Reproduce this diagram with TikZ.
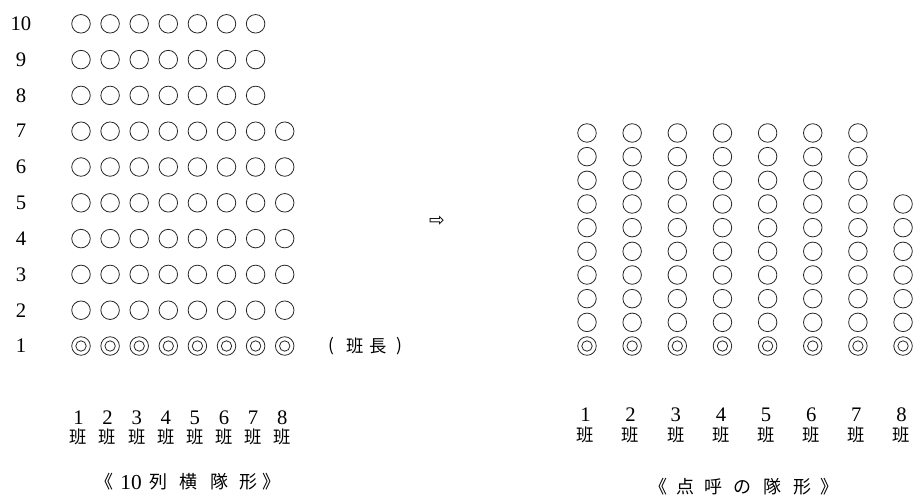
\documentclass[tikz,border=0pt]{standalone}
\usepackage{fontspec}
\setmainfont{Liberation Serif}
\newfontfamily\jp{Noto Sans CJK JP}
\newfontfamily\symf{DejaVu Sans}
\begin{document}
\begin{tikzpicture}[x=0.75pt,y=-0.75pt,
  seat/.style={circle,draw=black!85,line width=0.6pt,minimum size=13.9pt,inner sep=0pt},
  num/.style={inner sep=0pt,font=\fontsize{15.5}{16}\selectfont},
  kj/.style={inner sep=0pt,font=\jp\fontsize{13}{14}\selectfont},
  captxt/.style={inner sep=0pt,font=\jp\fontsize{13.5}{14}\selectfont},
  capnum/.style={inner sep=0pt,font=\fontsize{16}{17}\selectfont}]
\useasboundingbox (0,0) rectangle (917,494);
% ---------- left: 10-row formation ----------
\foreach \r in {1,...,10}{
  \node[num] (rowlab\r) at (21,{346-(\r-1)*35.8}) {\r};
}
\foreach \r in {2,...,7}{
  \foreach \c in {1,...,8}{
    \node[seat] (L-\r-\c) at ({81+(\c-1)*29.1},{346-(\r-1)*35.8}) {};
  }
}
\foreach \r in {8,9,10}{
  \foreach \c in {1,...,7}{
    \node[seat] (L-\r-\c) at ({81+(\c-1)*29.1},{346-(\r-1)*35.8}) {};
  }
}
\foreach \c in {1,...,8}{
  \node[seat] (L-1-\c) at ({81+(\c-1)*29.1},346) {};
  \draw[draw=black!85,line width=0.6pt] (L-1-\c.center) circle[radius=3.9pt];
  \node[num] (Ln\c) at ({78.5+(\c-1)*29.1},418) {\c};
  \node[kj] (Lh\c) at ({78.5+(\c-1)*29.1},437) {班};
}
\node[kj] (lp) at (331,346) {(};
\node[kj] (lh) at (355,346) {班};
\node[kj] (lc) at (378,346) {長};
\node[kj] (rp) at (399,346) {)};
% caption left
\node[captxt] (lc1) at (104,482) {《};
\node[capnum] (lc2) at (131,482) {10};
\node[captxt] (lc3) at (158,482) {列};
\node[captxt] (lc4) at (188,482) {横};
\node[captxt] (lc5) at (219,482) {隊};
\node[captxt] (lc6) at (248,482) {形};
\node[captxt] (lc7) at (271,482) {》};
% ---------- arrow ----------
\node[inner sep=0pt,font=\symf\fontsize{14}{14}\selectfont] (arrow) at (437,221) {⇨};
% ---------- right: roll-call formation ----------
\foreach \c in {1,...,7}{
  \foreach \r in {2,...,10}{
    \node[seat] (R-\r-\c) at ({587+(\c-1)*45.15},{346-(\r-1)*23.67}) {};
  }
}
\foreach \r in {2,...,7}{
  \node[seat] (R-\r-8) at ({587+7*45.15},{346-(\r-1)*23.67}) {};
}
\foreach \c in {1,...,8}{
  \node[seat] (R-1-\c) at ({587+(\c-1)*45.15},346) {};
  \draw[draw=black!85,line width=0.6pt] (R-1-\c.center) circle[radius=3.9pt];
  \node[num] (Rn\c) at ({585.5+(\c-1)*45.15},415) {\c};
  \node[kj] (Rh\c) at ({585.5+(\c-1)*45.15},435) {班};
}
% caption right
\node[captxt] (rc1) at (658,487) {《};
\node[captxt] (rc2) at (685,487) {点};
\node[captxt] (rc3) at (713,487) {呼};
\node[captxt] (rc4) at (742,487) {の};
\node[captxt] (rc5) at (772,487) {隊};
\node[captxt] (rc6) at (802,487) {形};
\node[captxt] (rc7) at (829,487) {》};
\end{tikzpicture}
\end{document}
